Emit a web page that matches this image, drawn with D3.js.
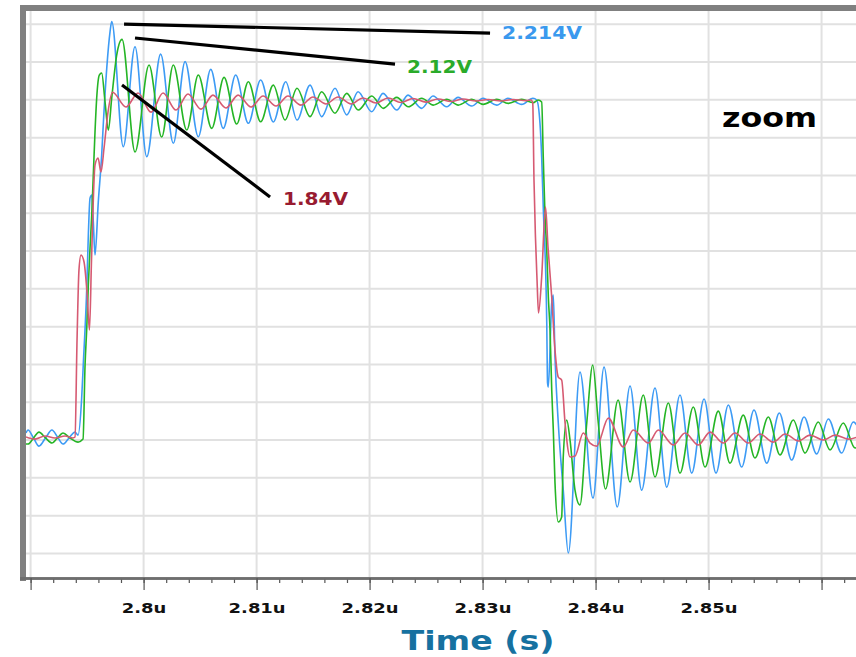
<!DOCTYPE html>
<html>
<head>
<meta charset="utf-8">
<script src="https://cdn.jsdelivr.net/npm/d3@7"></script>
<style>
html, body { margin: 0; padding: 0; background: #fff; }
svg { display: block; }
text { font-family: "DejaVu Sans", sans-serif; font-weight: bold; }
</style>
</head>
<body>
<svg></svg>
<script>
const width = 856;
const height = 657;

// time in ns, voltage in V (extrema)
const blueWave = [
  [2789.59,0.037],[2789.77,0.053],[2790.26,0.011],[2790.74,-0.032],[2791.32,0.011],[2791.89,0.053],
  [2792.38,0.016],[2792.87,-0.021],[2793.40,0.011],[2793.93,0.042],[2794.20,0.026],
  [2794.52,0.222],[2794.66,0.397],[2794.97,0.804],[2795.11,1.085],[2795.26,1.280],[2795.41,1.296],
  [2795.55,1.153],[2795.70,0.979],[2795.99,1.259],[2796.29,1.508],[2796.43,1.667],[2796.74,1.968],
  [2797.03,2.160],[2797.18,2.214],
  [2798.20,1.552],[2799.24,2.081],[2800.28,1.499],[2801.51,2.042],[2802.63,1.570],[2803.67,2.002],
  [2804.84,1.605],[2805.94,1.961],[2807.05,1.649],[2808.15,1.931],[2809.27,1.676],[2810.36,1.905],
  [2811.48,1.683],[2812.58,1.896],[2813.58,1.693],[2814.73,1.878],[2815.76,1.711],[2816.94,1.861],
  [2817.98,1.720],[2818.98,1.843],[2820.19,1.737],[2821.19,1.834],[2822.40,1.746],[2823.40,1.825],
  [2824.61,1.755],[2825.61,1.820],[2826.83,1.763],[2827.83,1.813],[2829.04,1.767],[2830.04,1.808],
  [2831.25,1.772],[2832.25,1.808],[2833.46,1.776],[2834.46,1.808],
  [2834.79,1.799],[2835.08,1.677],[2835.23,1.497],[2835.37,1.233],[2835.68,0.619],[2835.75,0.302],
  [2835.82,0.280],[2836.12,0.725],[2836.26,0.767],[2836.41,0.439],[2836.70,0.090],[2837.14,-0.265],
  [2837.59,-0.598],
  [2838.62,0.360],[2839.77,-0.307],[2840.75,0.386],[2841.92,-0.354],[2843.05,0.286],[2844.08,-0.265],
  [2845.26,0.275],[2846.30,-0.249],[2847.47,0.238],[2848.51,-0.175],[2849.60,0.217],[2850.66,-0.175],
  [2851.75,0.185],[2852.93,-0.143],[2854.02,0.159],[2855.15,-0.122],[2856.26,0.143],[2857.36,-0.106],
  [2858.45,0.122],[2859.57,-0.074],[2860.60,0.111],[2861.78,-0.069],[2862.81,0.095],[2863.93,-0.058]
];

const greenWave = [
  [2789.59,-0.021],[2789.77,-0.021],[2790.26,0.011],[2790.74,0.042],[2791.32,0.011],[2791.89,-0.016],
  [2792.38,0.011],[2792.87,0.037],[2793.49,0.011],[2794.20,-0.011],[2794.64,0.005],
  [2794.82,0.397],[2794.97,0.593],[2795.11,0.820],[2795.26,1.016],[2795.41,1.190],[2795.55,1.402],
  [2795.70,1.630],[2795.85,1.810],[2796.08,1.931],[2796.29,1.942],[2796.59,1.788],[2796.88,1.640],
  [2797.18,1.810],[2797.62,2.037],[2798.09,2.120],
  [2799.24,1.524],[2800.48,1.984],[2801.60,1.603],[2802.63,1.984],[2803.82,1.640],[2804.84,1.931],
  [2806.03,1.649],[2807.12,1.919],[2808.24,1.672],[2809.27,1.896],[2810.36,1.684],[2811.48,1.878],
  [2812.52,1.693],[2813.58,1.861],[2814.73,1.711],[2815.76,1.843],[2816.94,1.729],[2817.98,1.834],
  [2819.00,1.746],[2820.19,1.820],[2821.21,1.755],[2822.40,1.813],[2823.43,1.763],[2824.61,1.808],
  [2825.64,1.772],[2826.83,1.803],[2827.85,1.772],[2829.04,1.803],[2830.06,1.776],[2831.25,1.803],
  [2832.28,1.781],[2833.46,1.803],[2834.49,1.785],
  [2834.91,1.799],[2835.23,1.788],[2835.37,1.497],[2835.53,1.180],[2835.68,1.005],[2835.82,0.757],
  [2835.97,0.582],[2836.12,0.265],[2836.26,0.053],[2836.41,-0.228],[2836.70,-0.434],[2837.00,-0.407],
  [2837.14,-0.090],[2837.45,0.106],[2837.74,0.000],[2838.18,-0.265],[2838.62,-0.344],[2839.22,0.090],
  [2839.75,0.397],[2840.24,0.090],[2840.88,-0.259],
  [2841.99,0.212],[2843.05,-0.222],[2844.22,0.238],[2845.26,-0.196],[2846.44,0.196],[2847.47,-0.175],
  [2848.65,0.175],[2849.69,-0.143],[2850.86,0.153],[2851.90,-0.122],[2853.07,0.132],[2854.11,-0.095],
  [2855.29,0.122],[2856.32,-0.079],[2857.50,0.106],[2858.54,-0.069],[2859.71,0.095],[2860.75,-0.053],
  [2861.92,0.090],[2862.96,-0.042],[2863.93,0.085]
];

const redWave = [
  [2789.59,0.016],[2790.39,0.005],[2791.28,0.021],[2792.16,0.011],[2793.05,0.021],[2793.75,0.011],
  [2793.93,0.016],[2794.11,0.529],[2794.28,0.899],[2794.46,0.979],[2794.73,0.942],[2794.99,0.783],
  [2795.21,0.582],[2795.39,0.952],[2795.70,1.455],[2795.97,1.492],[2796.23,1.418],[2796.50,1.545],
  [2796.85,1.735],[2797.25,1.840],
  [2798.44,1.762],[2799.51,1.836],[2800.66,1.735],[2801.72,1.836],[2802.87,1.746],[2803.93,1.831],
  [2805.08,1.751],[2806.14,1.825],[2807.29,1.757],[2808.36,1.825],[2809.51,1.762],[2810.57,1.820],
  [2811.72,1.767],[2812.78,1.820],[2813.93,1.772],[2814.99,1.815],[2816.14,1.778],[2817.21,1.815],
  [2818.36,1.778],[2819.42,1.810],[2820.57,1.783],[2821.63,1.810],[2822.78,1.786],[2823.84,1.807],
  [2824.99,1.788],[2826.06,1.804],[2827.21,1.791],[2828.27,1.804],[2829.42,1.794],[2830.48,1.802],
  [2831.63,1.794],[2832.69,1.802],[2833.84,1.796],[2834.29,1.799],
  [2834.44,1.783],[2834.55,1.376],[2834.68,1.074],[2834.82,0.847],[2834.95,0.672],[2835.23,0.862],
  [2835.57,1.233],[2835.79,1.021],[2836.12,0.757],[2836.41,0.476],[2836.70,0.333],[2837.00,0.317],
  [2837.30,0.090],[2837.74,-0.090],[2838.18,-0.085],[2838.91,0.037],[2839.51,-0.016],[2840.10,-0.032],
  [2841.13,0.116],[2842.45,-0.037],[2843.34,0.053],[2844.67,-0.016],[2845.55,0.053],[2846.88,-0.026],
  [2847.92,0.037],[2849.09,-0.026],[2850.13,0.042],[2851.30,-0.016],[2852.34,0.037],[2853.52,-0.016],
  [2854.55,0.032],[2855.73,-0.011],[2856.77,0.032],[2857.94,-0.005],[2858.98,0.026],[2860.15,0.000],
  [2861.19,0.026],[2862.37,0.005],[2863.40,0.021]
];

const majorTicks = [2790, 2800, 2810, 2820, 2830, 2840, 2850, 2860];
const tickLabels = ["", "2.8u", "2.81u", "2.82u", "2.83u", "2.84u", "2.85u", ""];
const gridVolts = [-0.6, -0.4, -0.2, 0, 0.2, 0.4, 0.6, 0.8, 1, 1.2, 1.4, 1.6, 1.8, 2, 2.2];
const peakTexts = ["2.214V", "2.12V", "1.84V"];
const axisTitle = "Time (s)";
const plotTitle = "zoom";

const svg = d3.select('svg')
    .attr('width', width)
    .attr('height', height);

const plotLeft = 26, plotRight = 856, plotTop = 11, plotBottom = 578;

const x = d3.scaleLinear().domain([2789.593, 2863.048]).range([plotLeft, plotRight]);
const y = d3.scaleLinear().domain([-0.73, 2.27]).range([plotBottom, plotTop]);

svg.append('defs').append('clipPath').attr('id', 'plot')
    .append('rect')
    .attr('x', plotLeft).attr('y', plotTop)
    .attr('width', plotRight - plotLeft).attr('height', plotBottom - plotTop);

// grid
const grid = svg.append('g');
grid.selectAll('line.h')
    .data(gridVolts)
    .enter().append('line')
    .attr('class', 'h')
    .attr('x1', plotLeft).attr('x2', plotRight)
    .attr('y1', d => y(d)).attr('y2', d => y(d))
    .attr('stroke', '#e1e1e1').attr('stroke-width', 2);
grid.selectAll('line.v')
    .data(majorTicks)
    .enter().append('line')
    .attr('class', 'v')
    .attr('x1', d => x(d)).attr('x2', d => x(d))
    .attr('y1', plotTop).attr('y2', plotBottom)
    .attr('stroke', '#e1e1e1').attr('stroke-width', 2);

// waveforms
const line = d3.line()
    .x(d => x(d[0]))
    .y(d => y(d[1]))
    .curve(d3.curveMonotoneX);

const waves = svg.append('g').attr('clip-path', 'url(#plot)');
const series = [
    { data: blueWave, color: '#3d9bf5' },
    { data: greenWave, color: '#25b525' },
    { data: redWave, color: '#d65a72' }
];
series.forEach(s => {
    waves.append('path')
        .datum(s.data)
        .attr('d', line)
        .attr('fill', 'none')
        .attr('stroke', s.color)
        .attr('stroke-width', 1.6);
});

// frame
svg.append('rect').attr('x', 20).attr('y', 5).attr('width', 6).attr('height', 576).attr('fill', '#808080');
svg.append('rect').attr('x', 20).attr('y', 5).attr('width', plotRight - 20).attr('height', 6).attr('fill', '#808080');

// x axis
const xAxis = svg.append('g').attr('transform', `translate(0,${plotBottom})`);
xAxis.append('g').call(d3.axisBottom(x)
    .tickValues(d3.range(2790, 2864, 2))
    .tickSize(5)
    .tickFormat(''));
xAxis.append('g').call(d3.axisBottom(x)
    .tickValues(majorTicks)
    .tickSize(12)
    .tickFormat((d, i) => tickLabels[i]));
xAxis.selectAll('.domain')
    .attr('d', `M20,0.5H${plotRight}`)
    .attr('stroke', '#6e6e6e').attr('stroke-width', 2.5);
xAxis.selectAll('.tick line').attr('stroke', '#555').attr('stroke-width', 1.2);
xAxis.selectAll('.tick text')
    .attr('y', 35).attr('dy', 0)
    .attr('fill', '#111')
    .style('font-size', '14px')
    .style('font-family', '"DejaVu Sans", sans-serif')
    .style('font-weight', 'bold')
    .each(function() {
        const w = this.getComputedTextLength();
        if (w > 0) d3.select(this).attr('textLength', w * 1.28).attr('lengthAdjust', 'spacingAndGlyphs');
    });

svg.append('text')
    .attr('x', 478).attr('y', 650)
    .attr('text-anchor', 'middle')
    .attr('fill', '#1671a0')
    .style('font-size', '26px')
    .attr('textLength', 153).attr('lengthAdjust', 'spacingAndGlyphs')
    .text(axisTitle);

svg.append('text')
    .attr('x', x(2851.19)).attr('y', y(1.656))
    .attr('fill', '#000')
    .style('font-size', '26px')
    .attr('textLength', 95).attr('lengthAdjust', 'spacingAndGlyphs')
    .text(plotTitle);

// callouts: line from peak to label, anchored in data units
const callouts = [
    { from: [2798.27, 2.201], to: [2830.66, 2.153], at: [2831.72, 2.122], color: '#3a99ee', w: 80 },
    { from: [2799.24, 2.127], to: [2822.25, 1.989], at: [2823.31, 1.942], color: '#2aab2a', w: 65 },
    { from: [2798.09, 1.878], to: [2811.19, 1.286], at: [2812.34, 1.243], color: '#981b30', w: 65 }
];
callouts.forEach((c, i) => {
    svg.append('line')
        .attr('x1', x(c.from[0])).attr('y1', y(c.from[1]))
        .attr('x2', x(c.to[0])).attr('y2', y(c.to[1]))
        .attr('stroke', '#000').attr('stroke-width', 3.2);
    svg.append('text')
        .attr('x', x(c.at[0])).attr('y', y(c.at[1]))
        .attr('fill', c.color)
        .style('font-size', '17px')
        .attr('textLength', c.w).attr('lengthAdjust', 'spacingAndGlyphs')
        .text(peakTexts[i]);
});
</script>
</body>
</html>
